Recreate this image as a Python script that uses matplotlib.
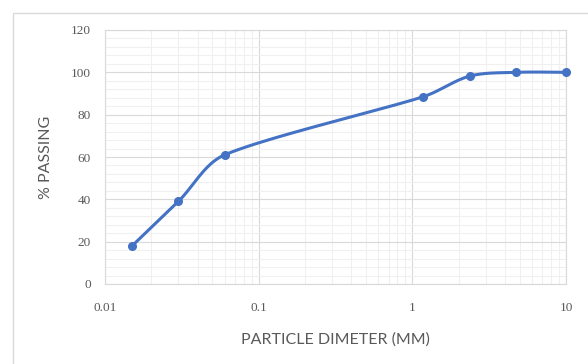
import numpy as np
import matplotlib.pyplot as plt
from matplotlib.patches import Rectangle
from matplotlib.ticker import FixedLocator, NullFormatter, MultipleLocator

# sieve data
diameter = [0.015, 0.03, 0.06, 1.18, 2.36, 4.75, 10.0]
passing = [18, 39, 61, 88.5, 98.2, 100, 100]
xticks = [0.01, 0.1, 1, 10]
xtick_labels = ["0.01", "0.1", "1", "10"]

blue = "#4472C4"
grey_txt = "#595959"


def smooth(xs, ys, sx=153.7, sy=2.117, n=40):
    # bezier smoothing in screen-like space (log x), tangent capped at a third of the segment
    p = np.column_stack([np.log10(xs) * sx, np.array(ys, float) * sy])
    p = np.vstack([p[0], p, p[-1]])
    out = []
    t = np.linspace(0, 1, n)[:, None]
    for i in range(1, len(p) - 2):
        p0, p1, p2, p3 = p[i - 1], p[i], p[i + 1], p[i + 2]
        d12 = np.linalg.norm(p2 - p1)
        a = p2 - p0
        b = p3 - p1
        la, lb = np.linalg.norm(a), np.linalg.norm(b)
        fa = min(1 / 6, d12 / 3 / la) if la > 0 else 0
        fb = min(1 / 6, d12 / 3 / lb) if lb > 0 else 0
        c1 = p1 + a * fa
        c2 = p2 - b * fb
        seg = ((1 - t) ** 3) * p1 + 3 * ((1 - t) ** 2) * t * c1 + 3 * (1 - t) * t ** 2 * c2 + t ** 3 * p2
        out.append(seg if i == 1 else seg[1:])
    out = np.vstack(out)
    return 10 ** (out[:, 0] / sx), out[:, 1] / sy


fig = plt.figure(figsize=(5.88, 3.64), dpi=100)
fig.patches.append(Rectangle((13 / 588, -0.1), 1.2, 1 - 13 / 364 + 0.1,
                             transform=fig.transFigure, fill=False,
                             edgecolor="#d9d9d9", linewidth=1))
ax = fig.add_axes([105 / 588, 1 - 284 / 364, (566 - 105) / 588, (284 - 30) / 364])

ax.set_xscale("log")
ax.set_xlim(0.01, 10)
ax.set_ylim(0, 120)
ax.yaxis.set_major_locator(MultipleLocator(20))
ax.yaxis.set_minor_locator(MultipleLocator(4))
ax.xaxis.set_major_locator(FixedLocator(xticks))
ax.set_xticklabels(xtick_labels)
ax.xaxis.set_minor_locator(FixedLocator([m * 10.0 ** e for e in (-2, -1, 0) for m in range(2, 10)]))
ax.xaxis.set_minor_formatter(NullFormatter())

ax.grid(True, which="major", color="#d9d9d9", linewidth=0.8)
ax.grid(True, which="minor", color="#f0f0f0", linewidth=0.8)
ax.set_axisbelow(True)
for s in ax.spines.values():
    s.set_color("#d9d9d9")
    s.set_linewidth(0.8)
ax.tick_params(which="both", length=0)
ax.tick_params(axis="x", pad=13)
ax.tick_params(axis="y", pad=10)
for lab in ax.get_xticklabels() + ax.get_yticklabels():
    lab.set_family("Liberation Serif")
    lab.set_fontsize(9.5)
    lab.set_color(grey_txt)

sx, sy = smooth(diameter, passing)
ax.plot(sx, sy, color=blue, linewidth=2.2, clip_on=False, solid_capstyle="round")
ax.plot(diameter, passing, "o", color=blue, markersize=5.5, clip_on=False, zorder=5)

ax.set_xlabel("PARTICLE DIMETER (MM)", family="Lato", fontsize=11.5, color=grey_txt, labelpad=13)
ax.set_ylabel("% PASSING", family="Lato", fontsize=11.5, color=grey_txt, labelpad=13)

fig.savefig("out.png", dpi=100)
